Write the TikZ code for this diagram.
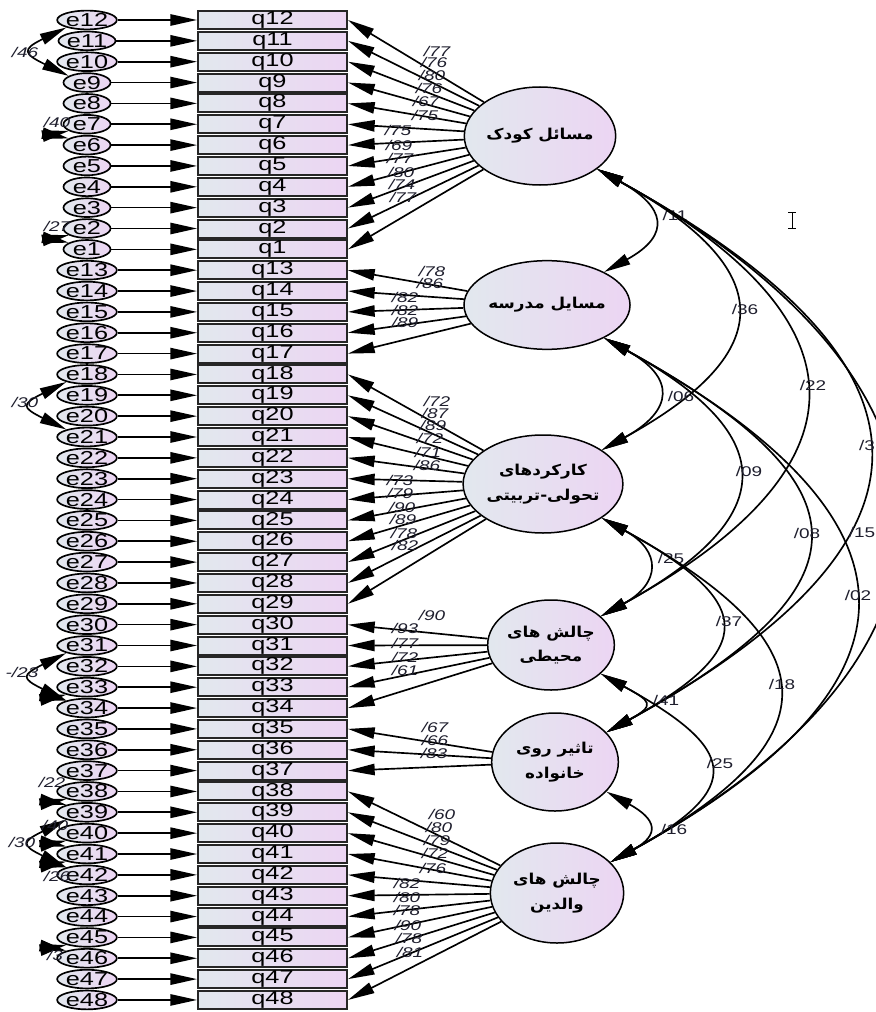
\documentclass[tikz,border=0pt]{standalone}
\usepackage{fontspec}
\setmainfont{Liberation Sans}[FakeStretch=1.35]
\newfontfamily\fa[Script=Arabic, FakeStretch=1.12]{DejaVu Sans}
\TeXXeTstate=1
\usetikzlibrary{arrows.meta,shapes.geometric}

\definecolor{boxL}{RGB}{226,232,238}
\definecolor{boxR}{RGB}{236,213,243}
\definecolor{ink}{RGB}{30,30,45}

\tikzset{
  item/.style={draw=black!85, line width=0.6mm, rectangle, left color=boxL, right color=boxR,
    minimum width=44.7mm, minimum height=5.4mm, inner sep=0pt, font=\fontsize{16}{16}\selectfont},
  err/.style={draw=black, line width=0.5mm, ellipse, left color=boxL, right color=boxR,
    minimum width=14.1mm, minimum height=5.6mm, inner sep=0pt, font=\fontsize{16}{16}\selectfont},
  latent/.style={draw=black, line width=0.45mm, ellipse, left color=boxL, right color=boxR,
    inner sep=0pt, align=center, font=\fa\bfseries\fontsize{12.8}{21}\selectfont},
  arr/.style={-{Triangle[length=8mm,width=3.4mm]}, line width=0.5mm},
  cov/.style={{Triangle[length=8mm,width=3.4mm]}-{Triangle[length=8mm,width=3.4mm]}, line width=0.5mm},
  val/.style={font=\fontsize{12}{13}\selectfont\itshape, text=ink, inner sep=0pt},
  cval/.style={font=\fontsize{12}{13}\selectfont, text=ink, inner sep=0pt},
}

\begin{document}
\begin{tikzpicture}[x=0.3mm, y=-0.3mm]
\useasboundingbox (0,0) rectangle (875,1012);

% observed items and their errors
\foreach \n [count=\i from 0] in {12,11,...,1}{
  \node[item] (q\n) at (272.5,20+20.85*\i) {q\n};
  \node[err] (e\n) at (87,20+20.85*\i) {e\n};
  \draw[arr] (e\n) -- (q\n);
}
\foreach \n [count=\i from 12] in {13,14,...,48}{
  \node[item] (q\n) at (272.5,20+20.85*\i) {q\n};
  \node[err] (e\n) at (87,20+20.85*\i) {e\n};
  \draw[arr] (e\n) -- (q\n);
}

% latent factors
\node[latent, minimum width=37.5mm, minimum height=29.4mm] (F1) at (540,136) {\beginR مسائل کودک\endR};
\node[latent, minimum width=36mm, minimum height=26.6mm] (F2) at (547,305) {\beginR مسایل مدرسه\endR};
\node[latent, minimum width=37mm, minimum height=29.4mm] (F3) at (543,484) {\beginR کارکردهای\endR\\\beginR تحولی-تربیتی\endR};
\node[latent, minimum width=38mm, minimum height=27mm] (F4) at (551,645) {\beginR چالش های\endR\\\beginR محیطی\endR};
\node[latent, minimum width=38mm, minimum height=29.4mm] (F5) at (555,762) {\beginR تاثیر روی\endR\\\beginR خانواده\endR};
\node[latent, minimum width=40mm, minimum height=30mm] (F6) at (557,893) {\beginR چالش های\endR\\\beginR والدین\endR};

% loadings
\foreach \n in {12,11,...,1} \draw[arr] (F1) -- (q\n.east);
\foreach \n in {13,...,17} \draw[arr] (F2) -- (q\n.east);
\foreach \n in {18,...,29} \draw[arr] (F3) -- (q\n.east);
\foreach \n in {30,...,34} \draw[arr] (F4) -- (q\n.east);
\foreach \n in {35,36,37} \draw[arr] (F5) -- (q\n.east);
\foreach \n in {38,...,48} \draw[arr] (F6) -- (q\n.east);

\foreach \v/\x/\y [count=\k] in {77/437/51, 76/434/62, 80/432/75, 76/429/88, 67/426/101, 75/425/115,
  75/398/130, 69/399/145, 77/400/158, 80/401/172, 74/402/184, 77/403/197,
  78/432/271, 86/430/283, 82/405/297, 82/405/310, 89/405/322,
  72/437/401, 87/435/413, 89/433/425, 72/430/438, 71/428/452, 86/427/465,
  73/400/480, 79/400/493, 90/402/507, 89/403/519, 78/404/533, 82/405/545,
  90/432/615, 93/405/628, 77/405/643, 72/405/657, 61/405/670,
  67/435/727, 66/435/740, 83/434/753,
  60/442/814, 80/439/827, 79/437/840, 72/435/853, 76/433/868,
  82/407/883, 80/407/897, 78/407/910, 90/408/925, 78/409/938, 81/410/952}
  \node[val] (w\k) at (\x,\y) {/\v};

% factor covariances
\foreach \s/\t/\a/\v/\x/\y [count=\k] in {1/2/68/11/675/215, 1/3/180/36/745/309, 1/4/273/22/813/385,
  1/5/353/3/867/445, 1/6/387/15/862/532, 2/3/72/06/681/396, 2/4/179/09/749/471,
  2/5/268/08/807/533, 2/6/328/02/858/595, 3/4/60/25/671/558, 3/5/153/37/729/621,
  3/6/227/18/782/684, 4/5/50/41/666/700, 4/6/136/25/720/763, 5/6/50/16/674/829}{
  \draw[cov] (F\s.-30) .. controls +(\a,{0.55*\a}) and +(\a,{-0.55*\a}) .. (F\t.30);
  \node[cval] (c\k) at (\x,\y) {/\v};
}

% error covariances
\foreach \s/\t/\a/\b in {12/9/45/22, 18/21/45/22, 31/34/45/22, 39/42/45/22,
  7/6/25/5, 2/1/25/5, 33/34/25/5, 38/39/25/5, 40/41/25/5, 41/42/25/5, 45/46/25/5}
  \draw[cov] (e\s.200) .. controls +(-\a,\b) and +(-\a,-\b) .. (e\t.160);

\foreach \v/\x/\y [count=\k] in {46/25/52, 40/57/122, 27/57/226, 30/25/402,
  22/52/782, 40/55/825, 30/22/842, 26/57/876, 3/55/955}
  \node[val] (r\k) at (\x,\y) {/\v};
\node[val] (r0) at (22,672) {-/23};

% cursor mark
\draw[line width=0.3mm] (792,212) -- (792,228) (788,212) -- (796,212) (788,228) -- (796,228);
\end{tikzpicture}
\end{document}
